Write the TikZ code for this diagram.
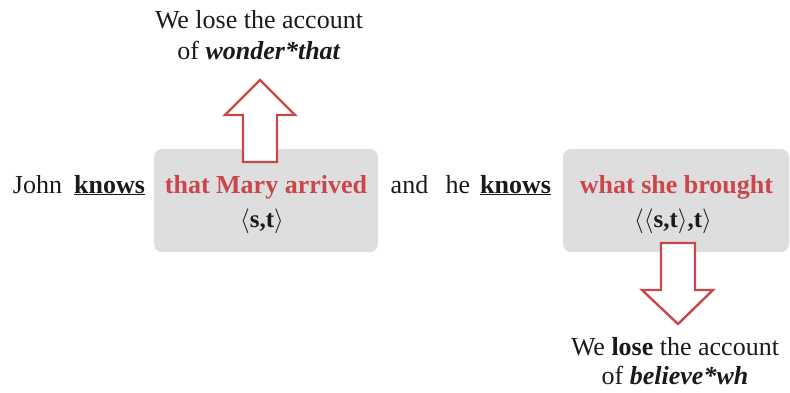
\documentclass[tikz,border=0pt]{standalone}
\usepackage{fontspec}
\setmainfont{Liberation Serif}
\definecolor{accent}{HTML}{C9474B}
\definecolor{boxgray}{HTML}{DEDEDE}
\definecolor{ink}{HTML}{1A1A1A}
\newcommand{\knowsword}{\underline{\textbf{knows}}}
\begin{document}
\begin{tikzpicture}[x=1pt,y=-1pt,
  txt/.style={font=\fontsize{26}{30}\selectfont, text=ink, inner sep=0pt, anchor=base},
  redtxt/.style={font=\fontsize{26}{30}\selectfont\bfseries, text=accent, inner sep=0pt, anchor=base},
  typ/.style={font=\fontsize{25}{29}\selectfont\bfseries, text=ink, inner sep=0pt, anchor=base},
  panel/.style={fill=boxgray, rounded corners=8pt, inner sep=0pt},
  bigarrow/.style={draw=accent, line width=2.4pt, fill=white, line join=miter}]
\useasboundingbox (0,0) rectangle (790,392);

% grey panels behind the embedded clauses
\node[panel, minimum width=224pt, minimum height=103pt] (lpanel) at (266,200.5) {};
\node[panel, minimum width=226pt, minimum height=103pt] (rpanel) at (676,200.5) {};

% hollow block arrows
\path[bigarrow] (243,162) -- (243,115) -- (225,115) -- (260,80) -- (295,115)
  -- (277,115) -- (277,162) -- cycle;
\path[bigarrow] (661,243) -- (661,290) -- (642,290) -- (678,324) -- (713,290)
  -- (695,290) -- (695,243) -- cycle;

% main sentence
\node[txt] (john) at (37.5,193) {John};
\node[txt] (knows1) at (109.5,193) {\knowsword};
\node[redtxt] (clause1) at (266,193) {that Mary arrived};
\node[typ] (type1) at (262,227) {$\langle$s,t$\rangle$};
\node[txt] (and) at (409.5,193) {and};
\node[txt] (he) at (458,193) {he};
\node[txt] (knows2) at (515.5,193) {\knowsword};
\node[redtxt] (clause2) at (676.5,193) {what she brought};
\node[typ] (type2) at (673,227) {$\langle\langle$s,t$\rangle$,t$\rangle$};

% consequences
\node[txt] (top1) at (259,28) {We lose the account};
\node[txt] (top2) at (259,59) {of \textbf{\textit{wonder*that}}};
\node[txt] (bot1) at (675,355) {We \textbf{lose} the account};
\node[txt] (bot2) at (675,384) {of \textbf{\textit{believe*wh}}};
\end{tikzpicture}
\end{document}
